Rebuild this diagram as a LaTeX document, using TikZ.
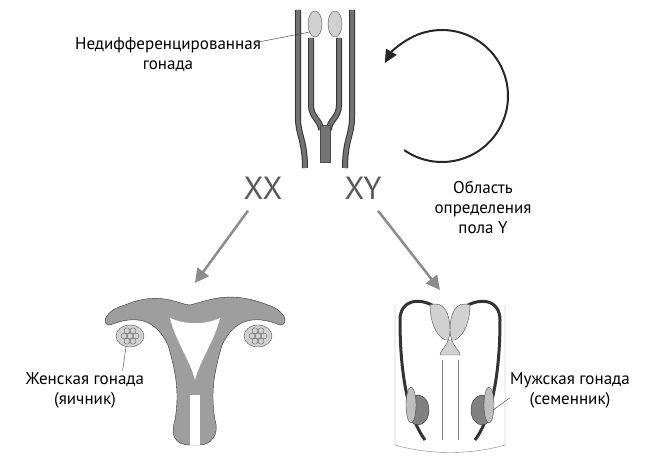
\documentclass[tikz,border=0pt]{standalone}
\usepackage{fontspec}
\setmainfont{PT Sans}
\usetikzlibrary{arrows.meta}
\definecolor{duct}{gray}{0.45}
\definecolor{tissue}{gray}{0.82}
\definecolor{uter}{gray}{0.62}
\definecolor{arr}{gray}{0.55}
\begin{document}
\begin{tikzpicture}[x=1pt,y=-1pt,
    lbl/.style={align=center,font=\fontsize{17}{20}\selectfont},
    chrom/.style={text=black!65,font=\fontsize{32}{34}\selectfont},
    tube/.style={draw=black!80,line width=6pt},
    tubein/.style={draw=duct,line width=4pt},
    bigarrow/.style={arr,line width=2.5pt,-{Triangle[length=14pt,width=14pt]}}]
  \useasboundingbox (0,0) rectangle (665,457);
  % undifferentiated gonad
  \foreach \s in {1,-1}{
    \foreach \st in {tube,tubein}{
      \path[\st] (325+\s*27,10) -- (325+\s*27,118) .. controls (325+\s*27,135) and (325+\s*20,140) .. (325+\s*20,168);
      \path[\st] (325+\s*14,38) -- (325+\s*14,105) .. controls (325+\s*14,118) and (325+\s*4,120) .. (325+\s*4,130);
    }
    \draw[black!70,fill=tissue] (325+\s*10,24) ellipse (7 and 13);
  }
  \draw[black!70,fill=duct] (320,125) rectangle (330,162);
  \node[lbl] (gonad) at (168,55) {Недифференцированная\\гонада};
  \coordinate (gonadtip) at (310,32);
  \draw[black!80] (gonad.north east) ++(-8,8) -- (gonadtip);
  % Y region arrow
  \draw[black!85,line width=2pt,-{Triangle[length=13pt,width=12pt]}]
    (442,96) ++(125:66) arc[start angle=125,end angle=-150,radius=66];
  \node[lbl] (yreg) at (483,207) {Область\\определения\\пола Y};
  \node[chrom] (xx) at (263,188) {XX};
  \node[chrom] (xy) at (363,188) {XY};
  \draw[bigarrow] (xx.south) ++(-15,8) -- (195,283);
  \draw[bigarrow] (xy.south) ++(15,8) -- (440,290);
  % female
  \draw[black!80,fill=uter]
    (125,305) .. controls (160,290) and (180,305) .. (190,305)
    .. controls (210,300) and (230,290) .. (268,305)
    .. controls (285,310) and (290,325) .. (280,325)
    .. controls (255,315) and (235,318) .. (222,345)
    .. controls (215,370) and (210,390) .. (215,420)
    .. controls (220,435) and (210,445) .. (200,445)
    -- (190,445) .. controls (175,445) and (170,435) .. (175,420)
    .. controls (180,390) and (175,370) .. (168,345)
    .. controls (155,318) and (135,315) .. (110,325)
    .. controls (100,325) and (105,310) .. (125,305) -- cycle;
  \fill[white] (170,318) .. controls (185,325) and (205,325) .. (220,318)
    .. controls (215,340) and (200,360) .. (195,380)
    .. controls (190,360) and (175,340) .. (170,318) -- cycle;
  \fill[white] (190,395) rectangle (200,445);
  \foreach \ox in {130,258}{
    \draw[black!70,fill=tissue] (\ox,336) ellipse (14 and 11);
    \foreach \a in {0,60,...,300} \draw[black!60] (\ox,336) ++(\a:6) circle (3);
    \draw[black!60] (\ox,336) circle (3);
  }
  \node[lbl] (fem) at (85,390) {Женская гонада\\(яичник)};
  \coordinate (ovtip) at (126,347);
  \draw[black!80] (fem.north east) ++(-25,2) -- (ovtip);
  % male
  \draw[black!50,fill=white] (395,305) -- (395,445) .. controls (430,455) and (470,455) .. (505,445) -- (505,305);
  \draw[black!80,line width=3pt] (425,440) .. controls (410,420) and (400,380) .. (400,320)
    .. controls (400,300) and (420,295) .. (440,310);
  \draw[black!80,line width=3pt] (475,440) .. controls (490,420) and (500,380) .. (500,320)
    .. controls (500,300) and (480,295) .. (460,310);
  \draw[black!70,fill=tissue] (430,305) .. controls (445,300) and (450,315) .. (450,330)
    .. controls (450,345) and (440,350) .. (440,355) -- (460,355)
    .. controls (460,350) and (450,345) .. (450,330)
    .. controls (450,315) and (455,300) .. (470,305) .. controls (470,320) and (465,335) .. (455,340)
    -- (445,340) .. controls (435,335) and (430,320) .. (430,305) -- cycle;
  \draw[black!50] (442,360) -- (442,440) (458,360) -- (458,440);
  \foreach \tx/\d in {418/-1,482/1}{
    \draw[black!80,fill=black!50] (\tx,410) ellipse (11 and 15);
    \draw[black!70,fill=black!25] (\tx+\d*7,405) ellipse (5 and 18);
  }
  \node[lbl] (male) at (570,390) {Мужская гонада\\(семенник)};
  \coordinate (tetip) at (493,410);
  \draw[black!80] (male.west) ++(3,8) -- (tetip);
\end{tikzpicture}
\end{document}
